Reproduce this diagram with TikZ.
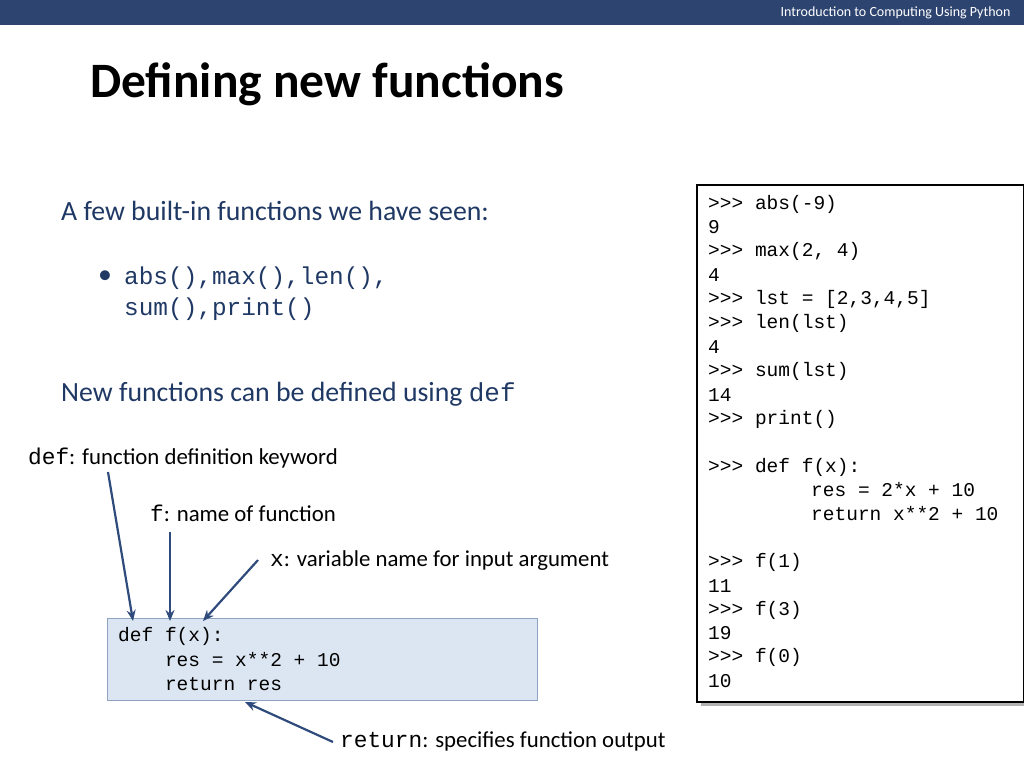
\documentclass[tikz,border=0pt]{standalone}
\usepackage{fontspec}
\usetikzlibrary{arrows.meta}
\setmainfont{Carlito}
\setmonofont{Liberation Mono}
\definecolor{barblue}{HTML}{2E4470}
\definecolor{txtblue}{HTML}{1F3864}
\definecolor{codefill}{HTML}{DCE6F2}
\definecolor{codeline}{HTML}{8EA3C2}
\definecolor{arr}{HTML}{2F4B7C}
\begin{document}
\begin{tikzpicture}[x=1pt,y=-1pt,
  lab/.style={anchor=west,inner sep=0pt,font=\fontsize{22.8}{22.8}\selectfont},
  big/.style={anchor=west,inner sep=0pt,text=txtblue,font=\fontsize{27.8}{27.8}\selectfont},
  mono/.style={anchor=west,inner sep=0pt,font=\ttfamily\fontsize{19.5}{19.5}\selectfont},
  pt/.style={draw=arr,line width=2.2pt,-{Stealth[length=11pt,width=9pt]}}]
\useasboundingbox (0,0) rectangle (1024,768);
\fill[barblue] (0,0) rectangle (1024,25);
\node[anchor=east,text=white,font=\fontsize{14}{14}\selectfont] (hdr) at (1014,13) {Introduction to Computing Using Python};
\node[anchor=west,inner sep=0pt,font=\bfseries\fontsize{49.5}{49.5}\selectfont] (title) at (90,84) {Defining new functions};
\node[big] (t1) at (61,211) {A few built-in functions we have seen:};
\node[big] (bul) at (98,277) {\textbullet};
\node[big,font=\ttfamily\fontsize{24.4}{24.4}\selectfont] (b1) at (124,278) {abs(),max(),len(),};
\node[big,font=\ttfamily\fontsize{24.4}{24.4}\selectfont] (b2) at (124,309) {sum(),print()};
\node[big] (t2) at (61,394) {New functions can be defined using \texttt{\fontsize{26}{26}\selectfont def}};
\node[lab] (l1) at (28,458) {\texttt{def}: function definition keyword};
\node[lab] (l2) at (150,513) {\texttt{f}: name of function};
\node[lab] (l3) at (270,561) {\texttt{x}: variable name for input argument};
\node[lab] (l4) at (340,741) {\texttt{return}: specifies function output};
\draw[codeline,fill=codefill] (107,618) rectangle (537,700);
\node[mono] (c1) at (118,636) {def f(x):};
\node[mono] (c2) at (118,660) {\ \ \ \ res = x**2 + 10};
\node[mono] (c3) at (118,684) {\ \ \ \ return res};
\coordinate (a1s) at (108,472); \coordinate (a1e) at (133,621);
\coordinate (a2s) at (170,532); \coordinate (a2e) at (170,621);
\coordinate (a3s) at (258,560); \coordinate (a3e) at (203,621);
\coordinate (a4s) at (333,742); \coordinate (a4e) at (245,702);
\draw[pt] (a1s) -- (a1e);
\draw[pt] (a2s) -- (a2e);
\draw[pt] (a3s) -- (a3e);
\draw[pt] (a4s) -- (a4e);
\fill[gray!60] (701,189) rectangle (1028,706);
\draw[line width=2.5pt,fill=white] (697,185) rectangle (1024,702);
\foreach \t/\y in {{>>> abs(-9)}/204,{9}/227,{>>> max(2, 4)}/251,{4}/275,{>>> lst = [2,3,4,5]}/299,{>>> len(lst)}/323,{4}/347,{>>> sum(lst)}/371,{14}/395,{>>> print()}/419,{>>> def f(x):}/467,{>>> f(1)}/562,{11}/586,{>>> f(3)}/610,{19}/633,{>>> f(0)}/657,{10}/681}
  \node[mono] at (708,\y) {\t};
\node[mono] (r1) at (811,490) {res = 2*x + 10};
\node[mono] (r2) at (811,514) {return x**2 + 10};
\end{tikzpicture}
\end{document}
